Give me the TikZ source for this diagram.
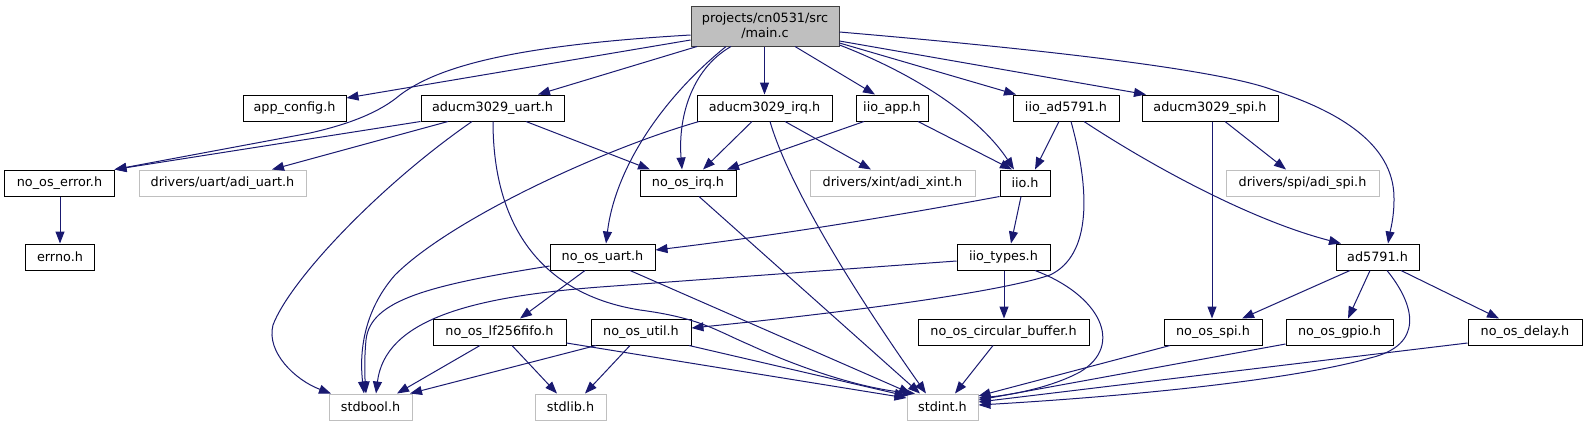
\documentclass[tikz,border=0pt]{standalone}
\usepackage{fontspec}
\setmainfont{DejaVu Sans}
\usetikzlibrary{arrows.meta,calc}
\definecolor{edgec}{HTML}{191970}
\definecolor{extc}{HTML}{BFBFBF}
\definecolor{mainfill}{HTML}{BFBFBF}
\definecolor{mainborder}{HTML}{404040}
\begin{document}
\begin{tikzpicture}[x=1bp,y=-1bp,
  box/.style={draw=black, fill=white, line width=1bp, inner sep=0pt, minimum height=26bp,
    font=\fontsize{12.8bp}{15bp}\selectfont, text=black},
  ext/.style={box, draw=extc},
  edge/.style={draw=edgec, line width=1bp, -{Triangle[length=12bp,width=9bp]}},
]
\useasboundingbox (0,0) rectangle (1587,425);

% row 0
\node[box, fill=mainfill, draw=mainborder, minimum width=148bp, minimum height=40bp, align=center] (main) at (765,26) {projects/cn0531/src\\/main.c};
% row 1
\node[box, minimum width=103bp] (appconfig) at (294.5,108) {app\_config.h};
\node[box, minimum width=143bp] (auart) at (492.5,108) {aducm3029\_uart.h};
\node[box, minimum width=135bp] (airq) at (764.5,108) {aducm3029\_irq.h};
\node[box, minimum width=72bp] (iioapp) at (892,108) {iio\_app.h};
\node[box, minimum width=106bp] (iioad) at (1066,108) {iio\_ad5791.h};
\node[box, minimum width=136bp] (aspi) at (1210,108) {aducm3029\_spi.h};
% row 2
\node[box, minimum width=109bp] (err) at (59.5,183) {no\_os\_error.h};
\node[ext, minimum width=167bp] (adiuart) at (222.5,183) {drivers/uart/adi\_uart.h};
\node[box, minimum width=96bp] (irq) at (688,183) {no\_os\_irq.h};
\node[ext, minimum width=165bp] (adixint) at (892.5,183) {drivers/xint/adi\_xint.h};
\node[box, minimum width=50bp] (iio) at (1025,183) {iio.h};
\node[ext, minimum width=153bp] (adispi) at (1302.5,183) {drivers/spi/adi\_spi.h};
% row 3
\node[box, minimum width=68bp] (errno) at (60,257) {errno.h};
\node[box, minimum width=105bp] (uart) at (602.5,257) {no\_os\_uart.h};
\node[box, minimum width=93bp] (types) at (1003.5,257) {iio\_types.h};
\node[box, minimum width=83bp] (ad) at (1377.5,257) {ad5791.h};
% row 4
\node[box, minimum width=133bp] (fifo) at (499.5,332) {no\_os\_lf256fifo.h};
\node[box, minimum width=100bp] (util) at (641,332) {no\_os\_util.h};
\node[box, minimum width=171bp] (circ) at (1003.5,332) {no\_os\_circular\_buffer.h};
\node[box, minimum width=98bp] (spi) at (1213,332) {no\_os\_spi.h};
\node[box, minimum width=107bp] (gpio) at (1339.5,332) {no\_os\_gpio.h};
\node[box, minimum width=114bp] (delay) at (1525,332) {no\_os\_delay.h};
% row 5
\node[ext, minimum width=83bp] (stdbool) at (370.5,407) {stdbool.h};
\node[ext, minimum width=71bp] (stdlib) at (570.5,407) {stdlib.h};
\node[ext, minimum width=71bp] (stdint) at (942.5,407) {stdint.h};

% main.c
\draw[edge] (main.west |- 0,40) -- (appconfig.east |- 0,98);
\draw[edge] (main.west |- 0,35) .. controls (520,45) and (440,65) .. (400,95)
  .. controls (380,112) and (350,124) .. (310,133) -- (err.north east);
\draw[edge] (main.south -| 697,0) -- (auart.north -| 538,0);
\draw[edge] (main.south -| 731,0) .. controls (690,70) and (678,120) .. (irq.north -| 682,0);
\draw[edge] (main.south -| 726,0) .. controls (660,100) and (615,170) .. (uart.north -| 606,0);
\draw[edge] (main.south -| 764.5,0) -- (airq.north -| 764.5,0);
\draw[edge] (main.south -| 795,0) -- (iioapp.north -| 875,0);
\draw[edge] (main.east |- 0,45) .. controls (930,80) and (985,125) .. (iio.north -| 1014,0);
\draw[edge] (main.east |- 0,43) -- (iioad.north -| 1016,0);
\draw[edge] (main.east |- 0,41) -- (aspi.north -| 1146,0);
\draw[edge] (main.east |- 0,32) .. controls (1050,50) and (1220,70) .. (1273,90)
  .. controls (1350,115) and (1395,150) .. (1394,200)
  .. controls (1394,218) and (1390,232) .. (ad.north -| 1388,0);

% aducm3029_uart.h
\draw[edge] (auart.south west) -- (err.north east);
\draw[edge] (auart.south -| 448,0) -- (adiuart.north -| 272,0);
\draw[edge] (auart.south -| 472,0) .. controls (380,185) and (290,280) .. (273,325)
  .. controls (266,352) and (295,380) .. (stdbool.north -| 331,0);
\draw[edge] (auart.south -| 493,0) .. controls (493,230) and (545,295) .. (640,310)
  .. controls (700,318) and (715,330) .. (750,345)
  .. controls (800,368) and (860,388) .. (stdint.north -| 915,0);
\draw[edge] (auart.south -| 526,0) -- (irq.north -| 650,0);

% aducm3029_irq.h
\draw[edge] (airq.south -| 752,0) -- (irq.north -| 703,0);
\draw[edge] (airq.south -| 785,0) -- (adixint.north -| 871,0);
\draw[edge] (airq.south -| 770,0) .. controls (790,190) and (860,300) .. (stdint.north -| 926,0);
\draw[edge] (airq.south -| 699,0) .. controls (600,150) and (450,220) .. (395,275)
  .. controls (360,315) and (360,360) .. (stdbool.north -| 364,0);

% iio_app.h
\draw[edge] (iioapp.south -| 864,0) -- (irq.north -| 727,0);
\draw[edge] (iioapp.south -| 918,0) -- (iio.north -| 1012,0);

% iio_ad5791.h
\draw[edge] (iioad.south -| 1059,0) -- (iio.north -| 1035,0);
\draw[edge] (iioad.south -| 1084,0) .. controls (1150,165) and (1250,220) .. (ad.north -| 1341,0);
\draw[edge] (iioad.south -| 1071,0) .. controls (1090,190) and (1092,255) .. (1050,275)
  .. controls (1000,292) and (850,312) .. (util.east |- 0,328);

% aducm3029_spi.h
\draw[edge] (aspi.south -| 1225,0) -- (adispi.north -| 1286,0);
\draw[edge] (aspi.south -| 1212,0) -- (spi.north -| 1212,0);

% no_os_error.h
\draw[edge] (err.south -| 60,0) -- (errno.north);

% no_os_irq.h
\draw[edge] (irq.south -| 699,0) -- (stdint.north -| 920,0);

% iio.h
\draw[edge] (iio.south west) .. controls (900,215) and (780,235) .. (uart.east |- 0,250);
\draw[edge] (iio.south -| 1021,0) -- (types.north -| 1011,0);

% no_os_uart.h
\draw[edge] (uart.west |- 0,266) .. controls (430,285) and (370,300) .. (366,340)
  .. controls (364,360) and (365,380) .. (stdbool.north -| 366,0);
\draw[edge] (uart.south -| 585,0) -- (fifo.north -| 520,0);
\draw[edge] (uart.south -| 630,0) -- (stdint.north -| 911,0);

% iio_types.h
\draw[edge] (types.west |- 0,261) -- (600,287) .. controls (470,297) and (385,320) .. (stdbool.north -| 376,0);
\draw[edge] (types.south -| 1004,0) -- (circ.north -| 1004,0);
\draw[edge] (types.south -| 1035,0) .. controls (1100,295) and (1125,345) .. (1080,372)
  .. controls (1050,388) and (1010,395) .. (stdint.east |- 0,398);

% ad5791.h
\draw[edge] (ad.south -| 1350,0) -- (spi.north -| 1242,0);
\draw[edge] (ad.south -| 1370,0) -- (gpio.north -| 1348,0);
\draw[edge] (ad.south -| 1401,0) -- (delay.north -| 1499,0);
\draw[edge] (ad.south -| 1387,0) .. controls (1415,305) and (1425,345) .. (1370,358)
  .. controls (1300,378) and (1150,395) .. (stdint.east |- 0,405);

% no_os_lf256fifo.h
\draw[edge] (fifo.south -| 480,0) -- (stdbool.north -| 397,0);
\draw[edge] (fifo.south -| 512,0) -- (stdlib.north -| 557,0);
\draw[edge] (fifo.east |- 0,343) -- (stdint.west |- 0,398);

% no_os_util.h
\draw[edge] (util.south -| 596,0) -- (stdbool.north -| 410,0);
\draw[edge] (util.south -| 630,0) -- (stdlib.north -| 585,0);
\draw[edge] (util.south -| 689,0) -- (stdint.west |- 0,396);

% leaves to stdint.h
\draw[edge] (circ.south -| 993,0) -- (stdint.north -| 955,0);
\draw[edge] (spi.south -| 1170,0) -- (stdint.east |- 0,396);
\draw[edge] (gpio.west |- 0,344) -- (stdint.east |- 0,400);
\draw[edge] (delay.west |- 0,343) -- (stdint.east |- 0,402);
\end{tikzpicture}
\end{document}
